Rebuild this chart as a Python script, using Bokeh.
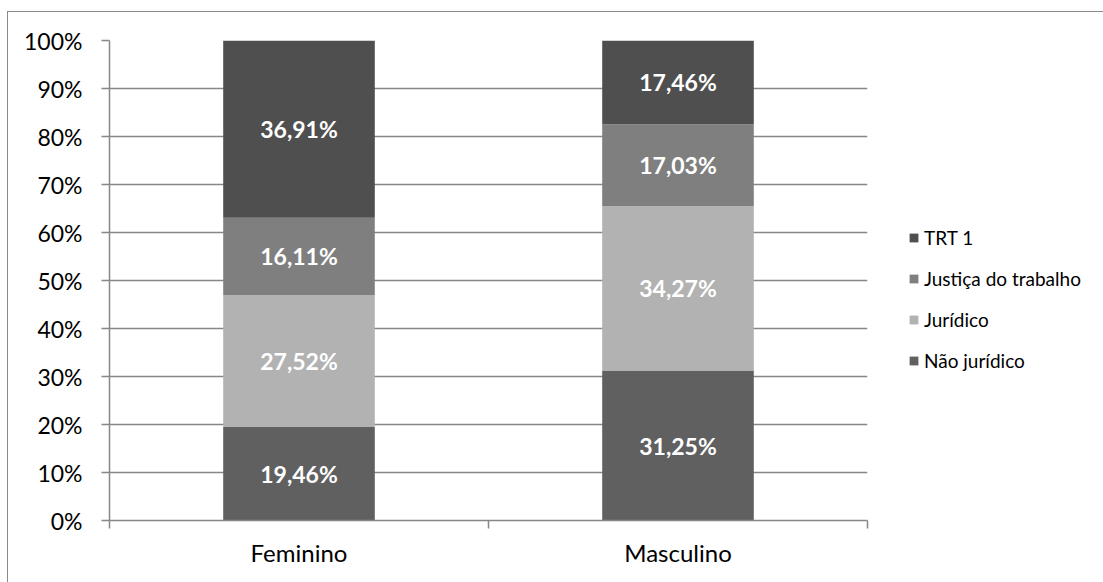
from bokeh.plotting import figure
from bokeh.models import (ColumnDataSource, Range1d, FixedTicker, LabelSet,
                          Legend, LegendItem)
from bokeh.core.properties import value
from bokeh.embed import file_html
from bokeh.resources import INLINE

# Share of staff by gender, split by professional background (%)
genders = ["Feminino", "Masculino"]
series = ["Não jurídico", "Jurídico", "Justiça do trabalho", "TRT 1"]
nao_juridico = [19.46, 31.25]
juridico = [27.52, 34.27]
justica_trabalho = [16.11, 17.03]
trt1 = [36.91, 17.46]
colors = ["#606060", "#b2b2b2", "#7f7f7f", "#4f4f4f"]
y_ticks = [0.0, 0.1, 0.2, 0.3, 0.4, 0.5, 0.6, 0.7, 0.8, 0.9, 1.0]

FONT = "Lato"
AXIS_GREY = "#878787"

values = [nao_juridico, juridico, justica_trabalho, trt1]
xpos = [i + 0.5 for i in range(len(genders))]

p = figure(
    frame_width=758, frame_height=480,
    min_border_left=101, min_border_top=28, min_border_right=242, min_border_bottom=66,
    x_range=Range1d(0, len(genders)), y_range=Range1d(0, 1),
    output_backend="svg", toolbar_location=None,
    margin=(11, 0, 0, 7),
    styles={"border-top": "1.5px solid #8a8a8a", "border-left": "1.5px solid #8a8a8a",
            "background": "white"},
)
p.outline_line_color = None
p.background_fill_color = "white"
p.border_fill_color = "white"

# stacked segments
renderers = []
bottoms = [0.0] * len(genders)
label_x, label_y, label_text = [], [], []
for name, vals, col in zip(series, values, colors):
    fr = [v / 100 for v in vals]
    tops = [b + f for b, f in zip(bottoms, fr)]
    src = ColumnDataSource(dict(x=xpos, bottom=bottoms, top=tops))
    r = p.vbar(x="x", bottom="bottom", top="top", width=0.4, source=src,
               fill_color=col, line_color=None)
    renderers.append((name, r))
    for x, b, t, v in zip(xpos, bottoms, tops, vals):
        label_x.append(x)
        label_y.append((b + t) / 2)
        label_text.append(f"{v:.2f}%".replace(".", ","))
    bottoms = tops

lab_src = ColumnDataSource(dict(x=label_x, y=label_y, text=label_text))
p.add_layout(LabelSet(x="x", y="y", text="text", source=lab_src,
                      text_align="center", text_baseline="middle",
                      text_color="white", text_font=value(FONT),
                      text_font_style="bold", text_font_size="23px"))

# y axis
p.yaxis.ticker = FixedTicker(ticks=y_ticks)
p.yaxis.major_label_overrides = {t: f"{round(t * 100)}%" for t in y_ticks}
p.yaxis.axis_line_color = AXIS_GREY
p.yaxis.axis_line_width = 1.5
p.yaxis.major_tick_line_color = AXIS_GREY
p.yaxis.major_tick_line_width = 1.5
p.yaxis.major_tick_out = 8
p.yaxis.major_tick_in = 0
p.yaxis.minor_tick_line_color = None
p.yaxis.major_label_standoff = 19
p.yaxis.major_label_text_font = FONT
p.yaxis.major_label_text_font_size = "23px"
p.yaxis.major_label_text_color = "#000000"

# x axis: labels at category centres, tick marks at category boundaries
p.xaxis.ticker = FixedTicker(ticks=xpos, minor_ticks=[float(i) for i in range(len(genders) + 1)])
p.xaxis.major_label_overrides = {x: g for x, g in zip(xpos, genders)}
p.xaxis.major_tick_line_color = None
p.xaxis.minor_tick_line_color = AXIS_GREY
p.xaxis.minor_tick_line_width = 1.5
p.xaxis.minor_tick_out = 8
p.xaxis.minor_tick_in = 0
p.xaxis.axis_line_color = AXIS_GREY
p.xaxis.axis_line_width = 1.5
p.xaxis.major_label_standoff = 9
p.xaxis.major_label_text_font = FONT
p.xaxis.major_label_text_font_size = "24px"
p.xaxis.major_label_text_color = "#000000"

p.xgrid.grid_line_color = None
p.ygrid.ticker = FixedTicker(ticks=y_ticks)
p.ygrid.grid_line_color = AXIS_GREY
p.ygrid.grid_line_width = 1.5

# legend to the right of the plot, top series first
items = [LegendItem(label=name, renderers=[r]) for name, r in reversed(renderers)]
legend = Legend(items=items, location=(41, 148), orientation="vertical",
                glyph_width=11, glyph_height=11, label_height=20, spacing=18,
                label_standoff=5, padding=0, margin=0,
                label_text_font=FONT, label_text_font_size="19px",
                label_text_color="#000000", background_fill_alpha=0,
                border_line_color=None)
p.add_layout(legend, "right")

open("out.html", "w").write(file_html(p, INLINE))
